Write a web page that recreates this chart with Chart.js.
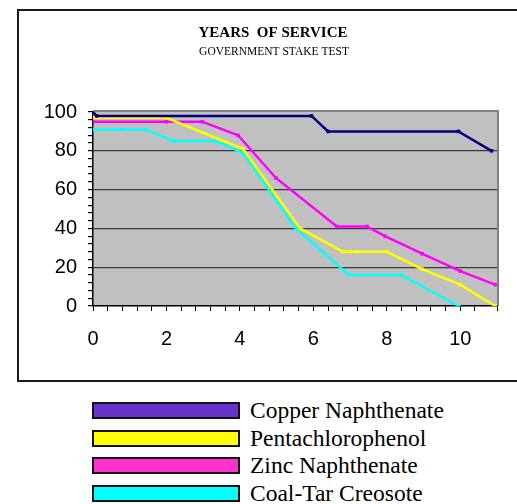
<!DOCTYPE html>
<html>
<head>
<meta charset="utf-8">
<script src="https://cdn.jsdelivr.net/npm/chart.js@4.4.0/dist/chart.umd.min.js"></script>
<style>
  body { margin: 0; width: 517px; height: 504px; overflow: hidden; background: #fff; position: relative; }
  #frame { position: absolute; left: 17px; top: 9px; width: 600px; height: 369px; border: 2px solid #1a1a1a; }
  #wrap { position: absolute; left: 0; top: 0; }
  .lg-box { position: absolute; left: 92px; width: 144px; height: 13px; border: 2px solid #111; }
  .lg-text { position: absolute; left: 250px; font: 23.5px "Liberation Serif", serif; line-height: 26px; color: #000; white-space: nowrap; }
</style>
</head>
<body>
<div id="frame"></div>
<div id="wrap"><canvas id="serviceChart" width="517" height="380"></canvas></div>
<div id="legend"></div>
<script>
'use strict'

// data (years in service vs % sound)
const seriesNames = ['Copper Naphthenate', 'Pentachlorophenol', 'Zinc Naphthenate', 'Coal-Tar Creosote'];

const copperYears = [0, 0.1, 5.95, 6.4, 9.95, 10.85];
const copperPct   = [100, 98, 98, 90, 90, 80];

const pentaYears = [0, 2, 4.08, 5.64, 6.8, 7.0, 7.2, 8.0, 8.96, 10, 10.95];
const pentaPct   = [97, 97, 81, 40, 28, 28, 28, 28, 19, 11, 0];

const zincYears = [0, 2, 2.97, 3.95, 4.98, 6.64, 7.46, 7.95, 8.96, 10, 10.95];
const zincPct   = [95, 95, 95, 88, 66, 41, 41, 36, 27, 18, 11];

const coalYears = [0, 0.79, 1.44, 2.2, 3.35, 4.08, 5.53, 6.97, 8.39, 9.96];
const coalPct   = [91, 91, 91, 85, 85, 79, 40, 16, 16, 0];

const xLabelStep = 2;
const yLabelStep = 20;

// line colours and (different) legend swatch colours
const lineColors   = ['#000080', '#FFFF00', '#FF00FF', '#00FFFF'];
const legendColors = ['#6633CC', '#FFFF00', '#FF33CC', '#00FFFF'];

function toPoints(xs, ys) {
  return xs.map((x, i) => ({ x: x, y: ys[i] }));
}

const allSeries = [
  toPoints(copperYears, copperPct),
  toPoints(pentaYears, pentaPct),
  toPoints(zincYears, zincPct),
  toPoints(coalYears, coalPct)
];

//-------------------
//- plot background -
//-------------------
const plotBackground = {
  id: 'plotBackground',
  beforeDraw(chart) {
    const { ctx, chartArea: a } = chart;
    ctx.save();
    ctx.fillStyle = '#C0C0C0';
    ctx.fillRect(a.left, a.top, a.right - a.left, a.bottom - a.top);
    ctx.strokeStyle = '#808080';
    ctx.lineWidth = 2;
    ctx.beginPath();
    ctx.moveTo(a.left, a.top - 1);
    ctx.lineTo(a.right + 1, a.top - 1);
    ctx.lineTo(a.right + 1, a.bottom);
    ctx.stroke();
    ctx.restore();
  }
};

//-------------------
//- titles          -
//-------------------
const titleText = {
  id: 'titleText',
  afterDraw(chart) {
    const ctx = chart.ctx;
    ctx.save();
    ctx.fillStyle = '#000';
    ctx.textAlign = 'center';
    ctx.textBaseline = 'alphabetic';
    ctx.font = 'bold 15px "Liberation Serif", serif';
    ctx.fillText('YEARS  OF SERVICE', 273, 37);
    ctx.font = '11.5px "Liberation Serif", serif';
    ctx.fillText('GOVERNMENT STAKE TEST', 274, 55);
    ctx.restore();
  }
};

const datasets = allSeries.map((pts, i) => ({
  label: seriesNames[i],
  data: pts,
  borderColor: lineColors[i],
  backgroundColor: lineColors[i],
  borderWidth: 2.5,
  pointStyle: 'rect',
  pointRadius: 2.5,
  pointBorderWidth: 0,
  pointBackgroundColor: lineColors[i],
  tension: 0,
  fill: false
}));

const tickFont = { family: '"Liberation Sans", Arial, sans-serif', size: 20 };

const isStep = (v, step) => Math.abs(v / step - Math.round(v / step)) < 1e-6;

new Chart(document.getElementById('serviceChart'), {
  type: 'line',
  data: { datasets: datasets },
  options: {
    responsive: false,
    animation: false,
    layout: { padding: { top: 112, right: 20, left: 0, bottom: 0 } },
    plugins: {
      legend: { display: false },
      title: { display: false },
      tooltip: { enabled: false }
    },
    scales: {
      x: {
        type: 'linear',
        min: 0,
        max: 11,
        afterFit(s) { s.height = 74; },
        border: { color: '#000', width: 1.5 },
        grid: { color: 'rgba(0,0,0,0)', tickColor: '#000', tickLength: 5, drawOnChartArea: false },
        ticks: {
          stepSize: 0.4,
          autoSkip: false,
          maxRotation: 0,
          padding: 16,
          color: '#000',
          font: tickFont,
          callback: v => isStep(v, xLabelStep) ? Math.round(v) : ''
        }
      },
      y: {
        min: 0,
        max: 100,
        afterFit(s) { s.width = 93; },
        border: { color: '#000', width: 1.5 },
        grid: {
          color: c => (c.tick && isStep(c.tick.value, yLabelStep) && c.tick.value > 0 && c.tick.value < 100) ? '#3a3a3a' : 'rgba(0,0,0,0)',
          tickColor: '#000',
          tickLength: 5,
          lineWidth: 1.2
        },
        ticks: {
          stepSize: 4,
          autoSkip: false,
          padding: 11,
          color: '#000',
          font: tickFont,
          callback: v => isStep(v, yLabelStep) ? Math.round(v) : ''
        }
      }
    }
  },
  plugins: [plotBackground, titleText]
});

//-------------------
//- legend (html)   -
//-------------------
const legendTops = [402, 429.5, 457, 484.5];
const legendEl = document.getElementById('legend');
seriesNames.forEach((name, i) => {
  const box = document.createElement('div');
  box.className = 'lg-box';
  box.style.top = legendTops[i] + 'px';
  box.style.background = legendColors[i];
  legendEl.appendChild(box);
  const txt = document.createElement('div');
  txt.className = 'lg-text';
  txt.style.top = (legendTops[i] - 5) + 'px';
  txt.textContent = name;
  legendEl.appendChild(txt);
});
</script>
</body>
</html>
